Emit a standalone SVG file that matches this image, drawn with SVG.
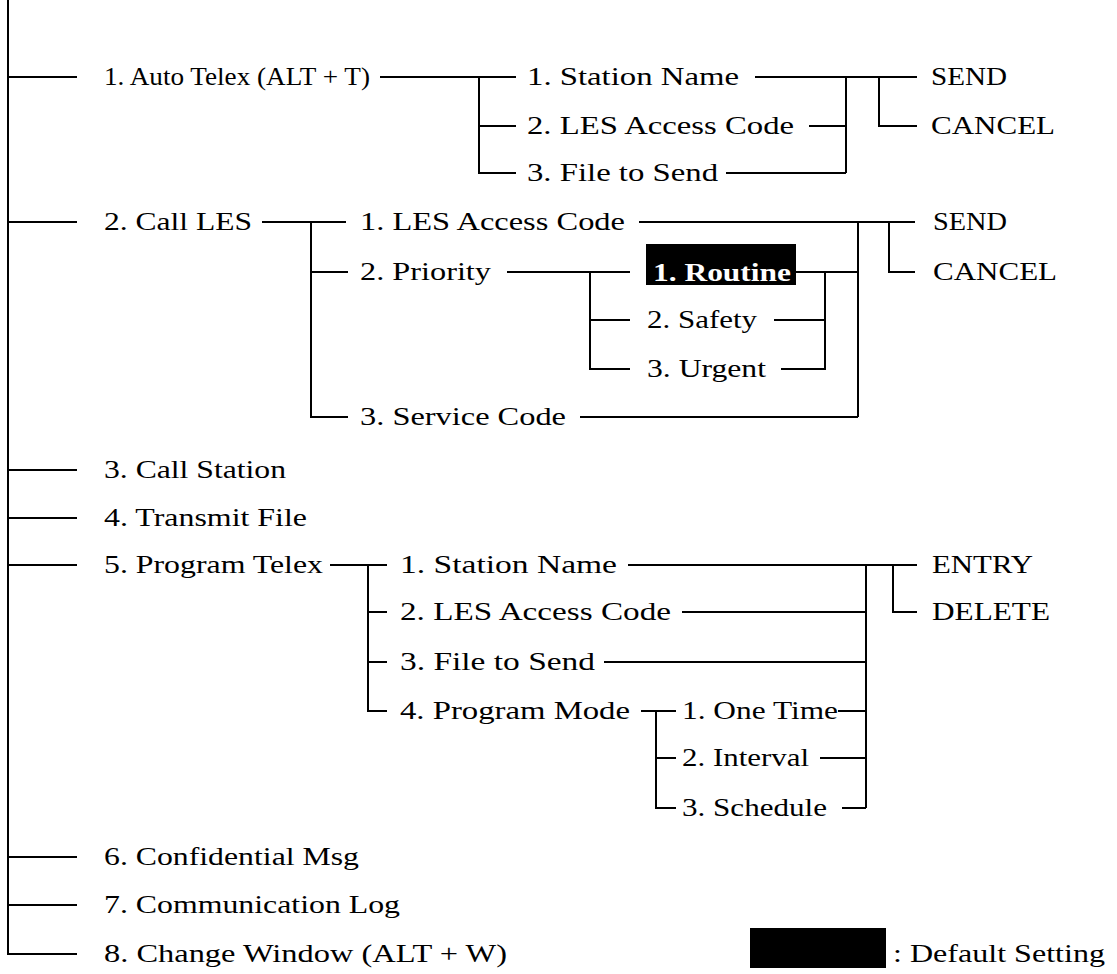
<svg xmlns="http://www.w3.org/2000/svg" width="1117" height="974" viewBox="0 0 1117 974">
<style>
.t{font-family:"Liberation Serif","Times New Roman",serif;font-size:26px;fill:#000}
.b{font-weight:bold;fill:#fff}
.ln{fill:none;stroke:#000;stroke-width:2}
</style>
<rect width="1117" height="974" fill="#fff"/>
<g id="connectors" class="ln">
<path d="M8 0V954H77M8 77H77M8 222H77M8 470H77M8 518H77M8 565H77M8 857H77M8 905H77"/>
<path d="M380 77H516M479 77V173H516M479 126H516"/>
<path d="M755 77H917M846 77V173M809 126H846M726 173H846M879 77V126H917"/>
<path d="M262 222H346M311 222V417H348M311 272H348"/>
<path d="M639 222H915M858 222V417M580 417H858M889 222V272H915"/>
<path d="M507 272H630M590 272V369H630M590 320H630"/>
<path d="M796 272H858M825 272V369H781M774 320H825"/>
<path d="M330 565H387M368 565V711H387M368 612H387M368 662H387"/>
<path d="M628 565H917M866 565V808M682 612H866M604 662H866M893 565V612H917"/>
<path d="M641 711H676M656 711V808H676M656 758H676"/>
<path d="M838 711H866M820 758H866M842 808H866"/>
</g>
<g id="n_autotelex"><text class="t" x="104" y="85" textLength="266" lengthAdjust="spacingAndGlyphs">1. Auto Telex (ALT + T)</text></g>
<g id="n_at_station"><text class="t" x="527" y="85" textLength="212" lengthAdjust="spacingAndGlyphs">1. Station Name</text></g>
<g id="n_at_les"><text class="t" x="527" y="134" textLength="267" lengthAdjust="spacingAndGlyphs">2. LES Access Code</text></g>
<g id="n_at_file"><text class="t" x="527" y="181" textLength="191" lengthAdjust="spacingAndGlyphs">3. File to Send</text></g>
<g id="n_at_send"><text class="t" x="931" y="85" textLength="76" lengthAdjust="spacingAndGlyphs">SEND</text></g>
<g id="n_at_cancel"><text class="t" x="931" y="134" textLength="124" lengthAdjust="spacingAndGlyphs">CANCEL</text></g>
<g id="n_calles"><text class="t" x="104" y="230" textLength="148" lengthAdjust="spacingAndGlyphs">2. Call LES</text></g>
<g id="n_cl_les"><text class="t" x="360" y="230" textLength="265" lengthAdjust="spacingAndGlyphs">1. LES Access Code</text></g>
<g id="n_cl_priority"><text class="t" x="360" y="280" textLength="131" lengthAdjust="spacingAndGlyphs">2. Priority</text></g>
<g id="n_cl_service"><text class="t" x="360" y="425" textLength="206" lengthAdjust="spacingAndGlyphs">3. Service Code</text></g>
<g id="n_routine"><rect x="646" y="244" width="150" height="41" fill="#000"/><text class="t b" x="653" y="281" textLength="138" lengthAdjust="spacingAndGlyphs">1. Routine</text></g>
<g id="n_safety"><text class="t" x="647" y="328" textLength="110" lengthAdjust="spacingAndGlyphs">2. Safety</text></g>
<g id="n_urgent"><text class="t" x="647" y="377" textLength="119" lengthAdjust="spacingAndGlyphs">3. Urgent</text></g>
<g id="n_cl_send"><text class="t" x="933" y="230" textLength="74" lengthAdjust="spacingAndGlyphs">SEND</text></g>
<g id="n_cl_cancel"><text class="t" x="933" y="280" textLength="124" lengthAdjust="spacingAndGlyphs">CANCEL</text></g>
<g id="n_callstation"><text class="t" x="104" y="478" textLength="182" lengthAdjust="spacingAndGlyphs">3. Call Station</text></g>
<g id="n_transmit"><text class="t" x="104" y="526" textLength="203" lengthAdjust="spacingAndGlyphs">4. Transmit File</text></g>
<g id="n_programtelex"><text class="t" x="104" y="573" textLength="219" lengthAdjust="spacingAndGlyphs">5. Program Telex</text></g>
<g id="n_pt_station"><text class="t" x="400" y="573" textLength="217" lengthAdjust="spacingAndGlyphs">1. Station Name</text></g>
<g id="n_pt_les"><text class="t" x="400" y="620" textLength="271" lengthAdjust="spacingAndGlyphs">2. LES Access Code</text></g>
<g id="n_pt_file"><text class="t" x="400" y="670" textLength="195" lengthAdjust="spacingAndGlyphs">3. File to Send</text></g>
<g id="n_pt_mode"><text class="t" x="400" y="719" textLength="230" lengthAdjust="spacingAndGlyphs">4. Program Mode</text></g>
<g id="n_onetime"><text class="t" x="682" y="719" textLength="156" lengthAdjust="spacingAndGlyphs">1. One Time</text></g>
<g id="n_interval"><text class="t" x="682" y="766" textLength="127" lengthAdjust="spacingAndGlyphs">2. Interval</text></g>
<g id="n_schedule"><text class="t" x="682" y="816" textLength="145" lengthAdjust="spacingAndGlyphs">3. Schedule</text></g>
<g id="n_entry"><text class="t" x="932" y="573" textLength="101" lengthAdjust="spacingAndGlyphs">ENTRY</text></g>
<g id="n_delete"><text class="t" x="932" y="620" textLength="118" lengthAdjust="spacingAndGlyphs">DELETE</text></g>
<g id="n_confidential"><text class="t" x="104" y="865" textLength="255" lengthAdjust="spacingAndGlyphs">6. Confidential Msg</text></g>
<g id="n_commlog"><text class="t" x="104" y="913" textLength="296" lengthAdjust="spacingAndGlyphs">7. Communication Log</text></g>
<g id="n_changewindow"><text class="t" x="104" y="962" textLength="403" lengthAdjust="spacingAndGlyphs">8. Change Window (ALT + W)</text></g>
<g id="legend"><rect x="750" y="928" width="136" height="40" fill="#000"/><text class="t" x="893" y="962" textLength="212" lengthAdjust="spacingAndGlyphs">: Default Setting</text></g>
</svg>
